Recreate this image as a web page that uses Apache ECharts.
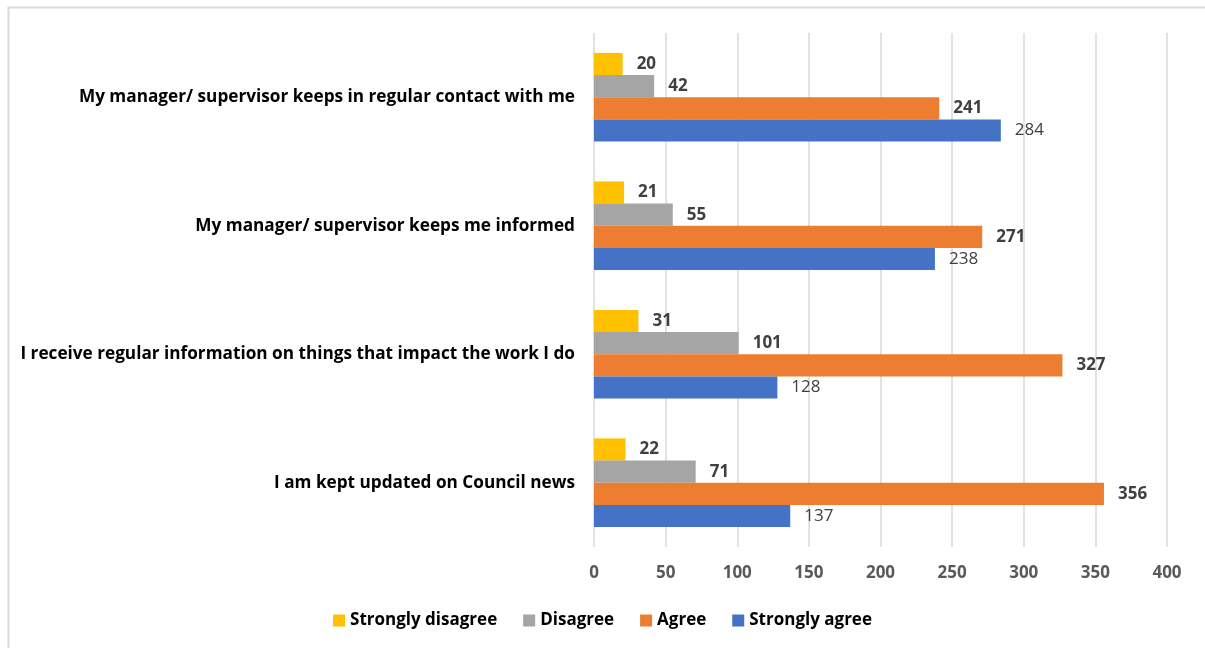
<!DOCTYPE html>
<html>
<head>
<meta charset="utf-8">
<script src="https://cdn.jsdelivr.net/npm/echarts@6/dist/echarts.min.js"></script>
<style>
  html, body { margin: 0; padding: 0; background: #fff; }
  #chart { width: 1205px; height: 648px; }
</style>
</head>
<body>
<div id="chart"></div>
<script>
// Statements, listed bottom to top as they appear on the category axis
const categories = [
  'I am kept updated on Council news',
  'I receive regular information on things that impact the work I do',
  'My manager/ supervisor keeps me informed',
  'My manager/ supervisor keeps in regular contact with me'
];

// Responses per statement (same order as categories)
const stronglyDisagree = [22, 31, 21, 20];
const disagree = [71, 101, 55, 42];
const agree = [356, 327, 271, 241];
const stronglyAgree = [137, 128, 238, 284];

const legendOrder = ['Strongly disagree', 'Disagree', 'Agree', 'Strongly agree'];
const xTicks = { min: 0, max: 400, interval: 50 };

const FONT = '"Open Sans", Lato, sans-serif';

function barSeries(name, data, color, bold) {
  return {
    name: name,
    type: 'bar',
    data: data,
    barGap: '0%',
    barCategoryGap: '31%',
    itemStyle: { color: color },
    label: {
      show: true,
      position: 'right',
      distance: 14,
      fontFamily: FONT,
      fontSize: 17,
      fontWeight: bold ? 'bold' : 'normal',
      color: '#404040'
    }
  };
}

const chart = echarts.init(document.getElementById('chart'), null, { renderer: 'canvas' });
chart.setOption({
  backgroundColor: '#fff',
  animation: false,
  graphic: [{
    type: 'polyline',
    shape: { points: [[8.5, 648], [8.5, 7.5], [1205, 7.5]] },
    style: { stroke: '#d9d9d9', lineWidth: 2, fill: null },
    silent: true
  }],
  grid: { left: 594, right: 38, top: 33, bottom: 101, containLabel: false },
  legend: {
    data: legendOrder,
    bottom: 14,
    left: 'center',
    itemWidth: 12,
    itemHeight: 12,
    itemGap: 26,
    icon: 'rect',
    textStyle: { fontFamily: FONT, fontSize: 17, fontWeight: 'bold', color: '#000' }
  },
  xAxis: {
    type: 'value',
    min: xTicks.min,
    max: xTicks.max,
    interval: xTicks.interval,
    axisLine: { show: false },
    axisTick: { show: false },
    splitLine: { show: true, lineStyle: { color: '#d9d9d9', width: 1.5 } },
    axisLabel: {
      margin: 18,
      fontFamily: FONT,
      fontSize: 17,
      fontWeight: 'bold',
      color: '#595959'
    }
  },
  yAxis: {
    type: 'category',
    data: categories,
    axisLine: { show: false },
    axisTick: { show: false },
    axisLabel: {
      margin: 19,
      fontFamily: FONT,
      fontSize: 17.2,
      fontWeight: 'bold',
      color: '#000'
    }
  },
  // series listed top to bottom within each group
  series: [
    barSeries('Strongly disagree', stronglyDisagree, '#ffc000', true),
    barSeries('Disagree', disagree, '#a5a5a5', true),
    barSeries('Agree', agree, '#ed7d31', true),
    barSeries('Strongly agree', stronglyAgree, '#4472c4', false)
  ]
});
</script>
</body>
</html>
